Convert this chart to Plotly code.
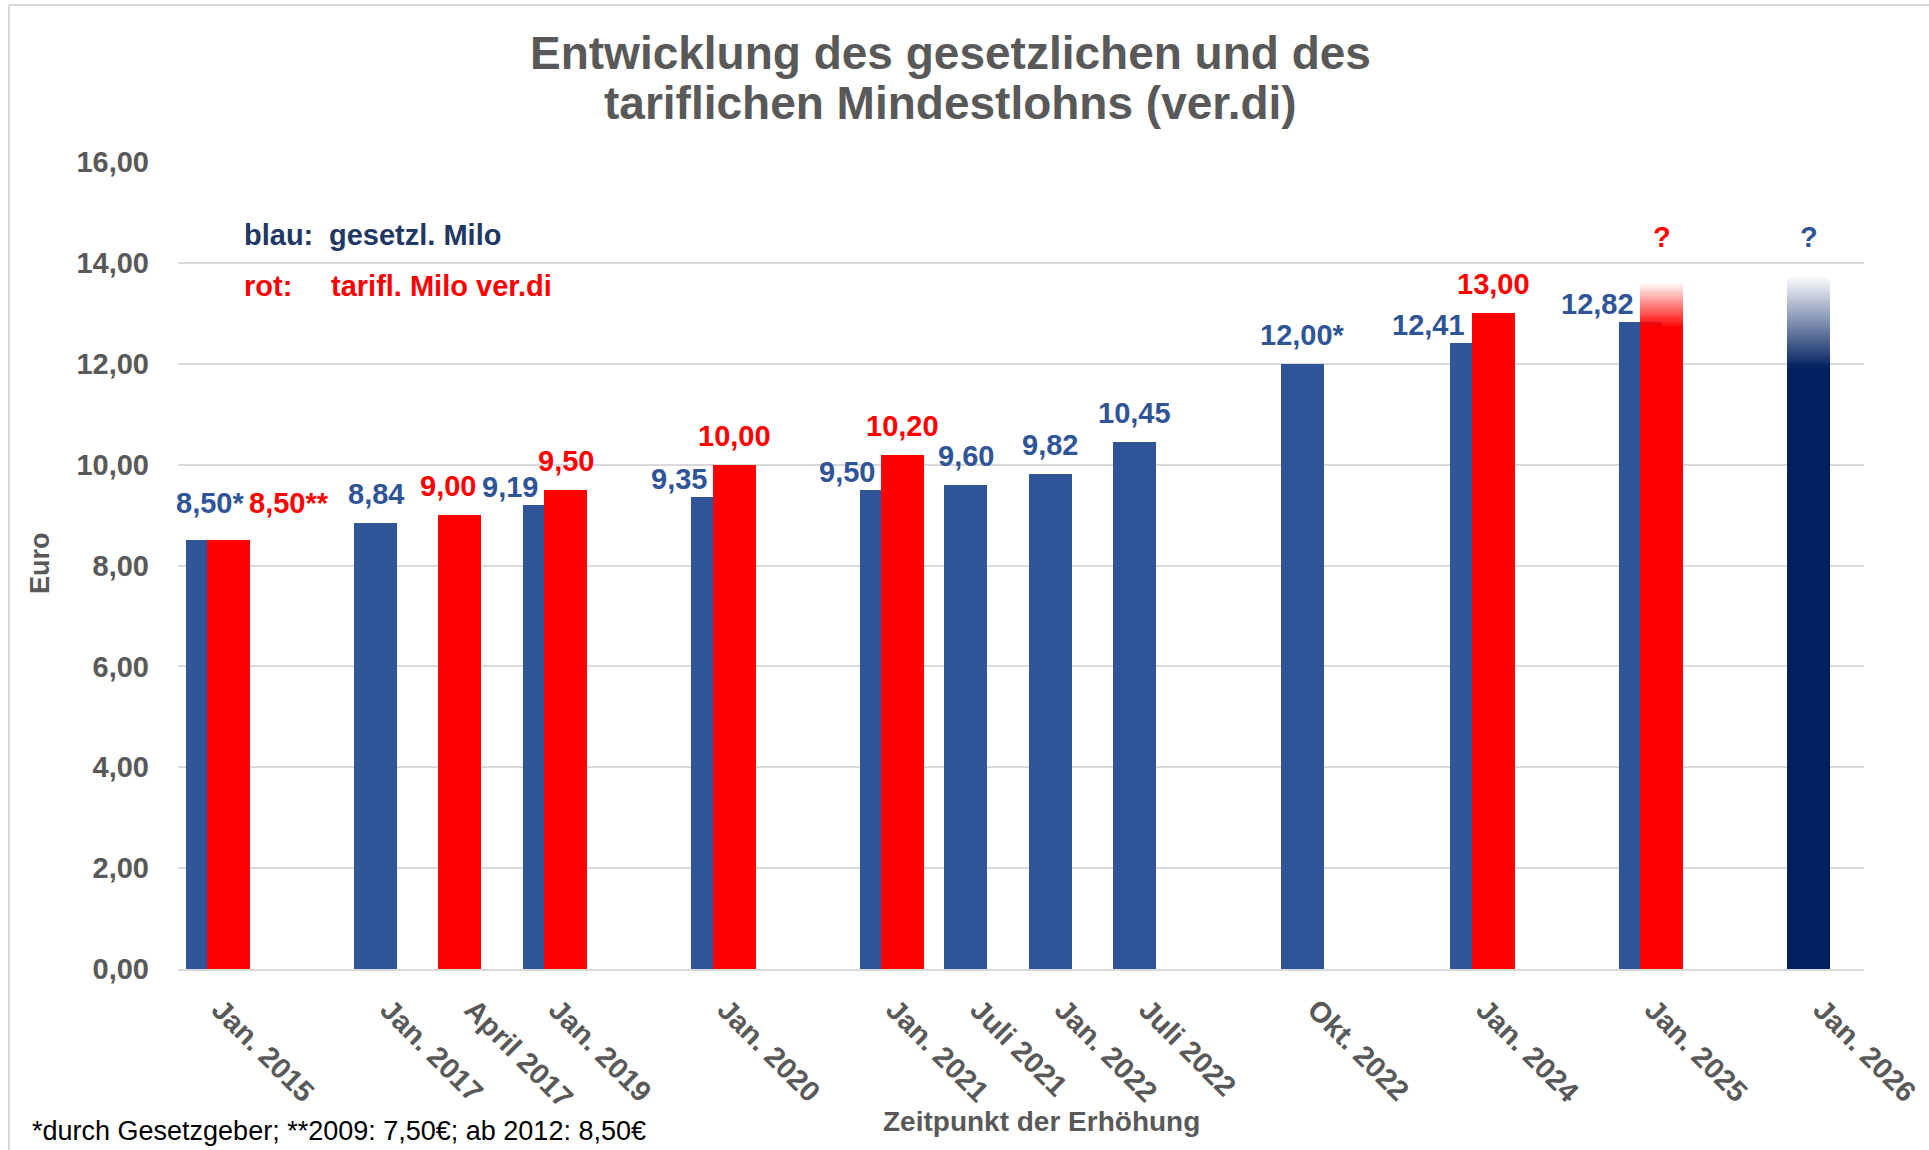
import numpy as np
import plotly.graph_objects as go

# ---------------- data ----------------
slots = ["Jan. 2015", "_a", "Jan. 2017", "April 2017", "Jan. 2019", "_b", "Jan. 2020", "_c",
         "Jan. 2021", "Juli 2021", "Jan. 2022", "Juli 2022", "_d", "Okt. 2022", "_e",
         "Jan. 2024", "_f", "Jan. 2025", "_g", "Jan. 2026"]
tick_text = ["" if s.startswith("_") else s for s in slots]

gesetzl = [8.50, None, 8.84, None, 9.19, None, 9.35, None, 9.50, 9.60, 9.82, 10.45,
           None, 12.00, None, 12.41, None, 12.82, None, None]
tarifl = [8.50, None, None, 9.00, 9.50, None, 10.00, None, 10.20, None, None, None,
          None, None, None, 13.00, None, None, None, None]
gesetzl_notes = {"Jan. 2015": "*", "Okt. 2022": "*"}
tarifl_notes = {"Jan. 2015": "**"}

# future values still unknown ("?") - drawn as fading bars
open_slots = ["Jan. 2025", "Jan. 2026"]
open_heights = [13.62, 13.77]
open_series = ["tarifl", "gesetzl"]

title_lines = ["Entwicklung des gesetzlichen und des", "tariflichen Mindestlohns (ver.di)"]
footnote = "*durch Gesetzgeber; **2009: 7,50€; ab 2012: 8,50€"

# ---------------- style ----------------
W, H = 1929, 1150
ML, MR, MT, MB = 178, 65, 162, 181
PW, PH = W - ML - MR, H - MT - MB
FONT = "Liberation Sans, Arial, sans-serif"
GRAY = "#595959"
BLUE = "#2F5597"
RED = "#FF0000"
NAVY = "#002060"
GRID = "#D9D9D9"
BAR_W = 0.51
OFF_FIRST = -0.41
OFF_SECOND = -0.155
FADE = {"tarifl": 0.9, "gesetzl": 1.85}
LBL = 29
TITLE = 46


def px_x(p):
    return (p - ML) / PW


def px_y(p):
    return 1 - (p - MT) / PH


def fmt(v):
    return f"{v:.2f}".replace(".", ",")


fig = go.Figure()

blue_off = [OFF_FIRST] * len(slots)
red_off = [OFF_FIRST if g is None else OFF_SECOND for g in gesetzl]

fig.add_trace(go.Bar(x=slots, y=gesetzl, width=BAR_W, offset=blue_off,
                     marker=dict(color=BLUE, line=dict(width=0)), name="gesetzl.",
                     hoverinfo="x+y"))
fig.add_trace(go.Bar(x=slots, y=tarifl, width=BAR_W, offset=red_off,
                     marker=dict(color=RED, line=dict(width=0)), name="tarifl.",
                     hoverinfo="x+y"))

# fading placeholder bars
rgb = {"tarifl": (255, 0, 0), "gesetzl": (0, 32, 96)}
N = 40
second_height = list(tarifl)
for s, h, ser in zip(open_slots, open_heights, open_series):
    i = slots.index(s)
    if ser == "tarifl":
        second_height[i] = h
    off = OFF_SECOND if (ser == "tarifl" and gesetzl[i] is not None) else OFF_FIRST
    solid = h - FADE[ser]
    levels = np.linspace(solid, h, N + 1)
    bases = [0.0] + list(levels[:-1])
    heights = [solid] + list(np.diff(levels))
    r, g, b = rgb[ser]
    alphas = [1.0] + list(np.linspace(1.0, 0.0, N + 1)[1:])
    cols = [f"rgba({r},{g},{b},{a:.3f})" for a in alphas]
    fig.add_trace(go.Bar(x=[s] * len(bases), y=heights, base=bases, width=BAR_W,
                         offset=off, marker=dict(color=cols, line=dict(width=0)),
                         hoverinfo="skip", showlegend=False))

# ---------------- data labels ----------------
ann = []


def label(x, y, text, color, xanchor="center", yshift=11):
    ann.append(dict(x=x, y=y, xref="x", yref="y", text=text, showarrow=False,
                    xanchor=xanchor, yanchor="bottom", yshift=yshift,
                    font=dict(family=FONT, size=LBL, color=color, weight="bold")))


for i, s in enumerate(slots):
    g, t = gesetzl[i], tarifl[i]
    t2 = second_height[i]
    if g is not None:
        txt = fmt(g) + gesetzl_notes.get(s, "")
        if t2 is not None and t2 > g:
            label(i + OFF_SECOND - 0.05, g, txt, BLUE, xanchor="right", yshift=0)
        elif t is not None and t == g:
            label(i + OFF_FIRST + BAR_W / 2 + 0.04, g, txt, BLUE, yshift=19)
        else:
            label(i + OFF_FIRST + BAR_W / 2, g, txt, BLUE)
    if t is not None:
        txt = fmt(t) + tarifl_notes.get(s, "")
        off = red_off[i]
        if g is not None and g == t:
            label(i + off + BAR_W - 0.04, t, txt, RED, xanchor="left", yshift=19)
        elif g is None:
            label(i + off + BAR_W / 2 - 0.14, t, txt, RED)
        else:
            label(i + off + BAR_W / 2, t, txt, RED)

top_open = max(open_heights)
for s, ser in zip(open_slots, open_series):
    i = slots.index(s)
    off = OFF_SECOND if (ser == "tarifl" and gesetzl[i] is not None) else OFF_FIRST
    label(i + off + BAR_W / 2, top_open, "?", RED if ser == "tarifl" else BLUE, yshift=19)


def text_px(x, y, text, size, color, bold=True, xanchor="center", angle=0):
    ann.append(dict(x=px_x(x), y=px_y(y), xref="paper", yref="paper", text=text,
                    showarrow=False, xanchor=xanchor, yanchor="middle", textangle=angle,
                    font=dict(family=FONT, size=size, color=color,
                              weight="bold" if bold else "normal")))


# title
text_px(950, 69 - 0.3465 * TITLE, title_lines[0], TITLE, GRAY)
text_px(950, 119 - 0.3465 * TITLE, title_lines[1], TITLE, GRAY)
# in-chart legend text
text_px(242, 245 - 0.3465 * LBL, "blau:", LBL, "#1F3864", xanchor="left")
text_px(327, 245 - 0.3465 * LBL, "gesetzl. Milo", LBL, "#1F3864", xanchor="left")
text_px(242, 296 - 0.3465 * LBL, "rot:", LBL, RED, xanchor="left")
text_px(329, 296 - 0.3465 * LBL, "tarifl. Milo ver.di", LBL, RED, xanchor="left")
# axis titles
text_px(1041, 1131 - 0.3465 * 28, "Zeitpunkt der Erhöhung", 28, GRAY)
text_px(40, 563, "Euro", 27, GRAY, angle=-90)
# footnote
text_px(30, 1140 - 0.3465 * 27, footnote, 27, "#000000", bold=False, xanchor="left")

shapes = [
    dict(type="line", xref="paper", yref="paper", x0=px_x(9), x1=px_x(9),
         y0=px_y(5), y1=px_y(H + 10), line=dict(color=GRID, width=2)),
    dict(type="line", xref="paper", yref="paper", x0=px_x(9), x1=px_x(W + 10),
         y0=px_y(5), y1=px_y(5), line=dict(color=GRID, width=2)),
]

fig.update_layout(
    width=W, height=H,
    margin=dict(l=ML, r=MR, t=MT, b=MB, autoexpand=False),
    paper_bgcolor="white", plot_bgcolor="white",
    barmode="overlay", bargap=0, showlegend=False,
    separators=",.",
    font=dict(family=FONT, color=GRAY),
    annotations=ann, shapes=shapes,
    xaxis=dict(type="category", categoryorder="array", categoryarray=slots,
               tickmode="array", tickvals=slots, ticktext=tick_text,
               range=[-0.5, len(slots) - 0.5],
               tickangle=45, showgrid=False, showline=True, linecolor=GRID, linewidth=2,
               ticks="", ticklabelstandoff=10,
               tickfont=dict(family=FONT, size=LBL, color=GRAY, weight="bold")),
    yaxis=dict(range=[0, 16], dtick=2, tickformat=".2f", showgrid=True,
               gridcolor=GRID, gridwidth=2, zeroline=False, showline=False,
               ticks="", ticklabelstandoff=28,
               tickfont=dict(family=FONT, size=LBL, color=GRAY, weight="bold")),
)

fig.write_html("out.html", config={"displayModeBar": False},
               post_script="document.body.style.margin='0';document.body.style.overflow='hidden';")
